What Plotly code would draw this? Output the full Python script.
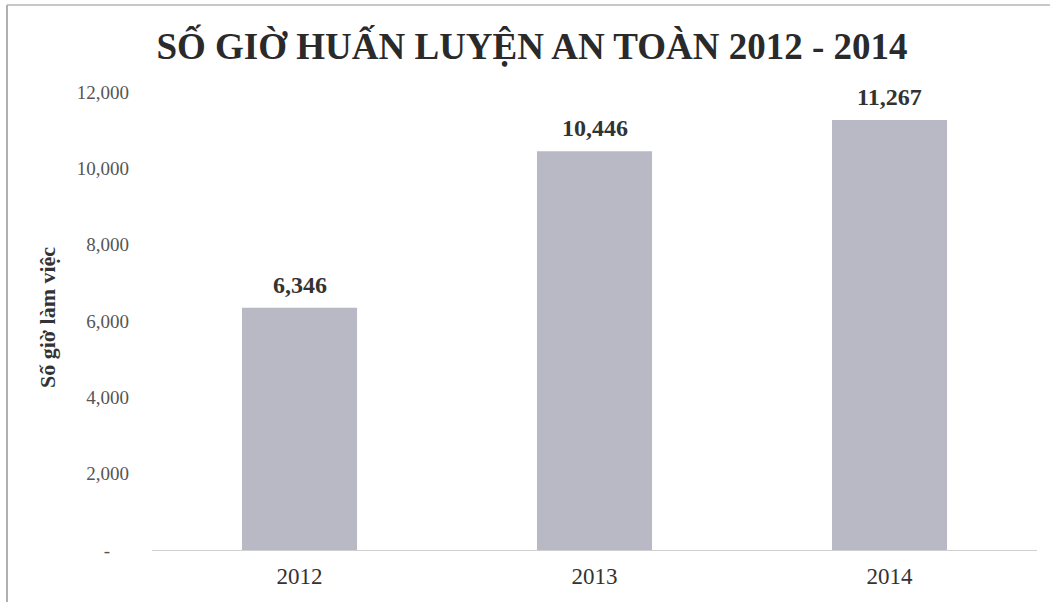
import plotly.graph_objects as go

years = ["2012", "2013", "2014"]
hours = [6346, 10446, 11267]
ytick_vals = [0, 2000, 4000, 6000, 8000, 10000, 12000]
ytick_text = ["-\u00a0\u00a0\u00a0\u00a0", "2,000", "4,000", "6,000", "8,000", "10,000", "12,000"]

W, H = 1050, 602
ml, mr, mt, mb = 152, 13, 92, 52
pw = W - ml - mr
ph = H - mt - mb

fig = go.Figure()
fig.add_trace(go.Bar(
    x=years, y=hours,
    marker=dict(color="#b9b9c5", line=dict(width=0)),
    width=0.39,
    hoverinfo="x+y",
))

for i, v in enumerate(hours):
    fig.add_annotation(
        x=i, y=v, xref="x", yref="y",
        text=f"<b>{v:,}</b>", showarrow=False,
        yanchor="bottom", yshift=8,
        font=dict(family="Liberation Serif", size=24, color="#333333"),
    )

fig.update_layout(
    width=W, height=H,
    margin=dict(l=ml, r=mr, t=mt, b=mb),
    paper_bgcolor="white", plot_bgcolor="white",
    showlegend=False,
    font=dict(family="Liberation Serif", color="#444444"),
    title=dict(
        text="<b>SỐ GIỜ HUẤN LUYỆN AN TOÀN 2012 - 2014</b>",
        font=dict(family="Liberation Serif", size=37, color="#2a2a2a"),
        x=532 / W, xref="container", xanchor="center",
        y=1 - 46 / H, yref="container", yanchor="middle",
    ),
    xaxis=dict(
        type="category", range=[-0.5, len(years) - 0.5],
        showgrid=False, showline=True, linecolor="#d0d0d0", linewidth=1,
        ticks="", tickfont=dict(family="Liberation Serif", size=23, color="#333333"),
        ticklabelstandoff=5,
    ),
    yaxis=dict(
        range=[0, 12000], showgrid=False, zeroline=False, showline=False,
        tickvals=ytick_vals, ticktext=ytick_text, ticks="",
        tickfont=dict(family="Liberation Serif", size=19, color="#555555"),
        ticklabelstandoff=22,
    ),
)

fig.add_annotation(
    text="<b>Số giờ làm việc</b>", textangle=-90,
    xref="paper", yref="paper",
    x=(47 - ml) / pw, y=(549 - 317) / ph, xanchor="center", yanchor="middle",
    showarrow=False,
    font=dict(family="Liberation Serif", size=22, color="#333333"),
)

# chart border lines (top and left)
fig.add_shape(type="line", xref="paper", yref="paper",
              x0=(7 - ml) / pw, x1=(W - ml) / pw,
              y0=1 + (mt - 5) / ph, y1=1 + (mt - 5) / ph,
              line=dict(color="#c8c8c8", width=2))
fig.add_shape(type="line", xref="paper", yref="paper",
              x0=(7 - ml) / pw, x1=(7 - ml) / pw,
              y0=1 + (mt - 5) / ph, y1=-mb / ph,
              line=dict(color="#b0b0b0", width=2))

fig.write_html("out.html")
